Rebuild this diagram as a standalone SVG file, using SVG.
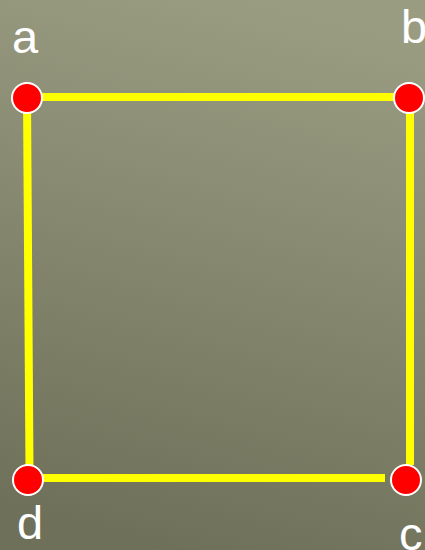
<svg xmlns="http://www.w3.org/2000/svg" width="425" height="550" viewBox="0 0 425 550">
<defs>
<linearGradient id="bg" x1="0.6" y1="0" x2="0.4" y2="1">
<stop offset="0" stop-color="#9a9c82"/>
<stop offset="1" stop-color="#6e7059"/>
</linearGradient>
</defs>
<style>
.edge{stroke:#ffff00;stroke-width:8;fill:none}
.pt{fill:#ff0000;stroke:#ffffff;stroke-width:2}
.lbl{font-family:"Liberation Sans",Arial,sans-serif;font-size:47px;fill:#ffffff}
</style>
<rect width="425" height="550" fill="url(#bg)"/>
<g id="connectors">
<line class="edge" x1="27" y1="97" x2="400" y2="97"/>
<line class="edge" x1="27" y1="97" x2="29.5" y2="470"/>
<line class="edge" x1="410" y1="98" x2="410" y2="465"/>
<line class="edge" x1="29" y1="478" x2="385" y2="478"/>
</g>
<g id="a"><circle class="pt" cx="27" cy="98" r="15"/><text class="lbl" x="12" y="53">a</text></g>
<g id="b"><circle class="pt" cx="409" cy="98" r="15"/><text class="lbl" x="401" y="43">b</text></g>
<g id="c"><circle class="pt" cx="406" cy="480" r="15"/><text class="lbl" x="399" y="550">c</text></g>
<g id="d"><circle class="pt" cx="28" cy="480" r="15"/><text class="lbl" x="17" y="539">d</text></g>
</svg>
